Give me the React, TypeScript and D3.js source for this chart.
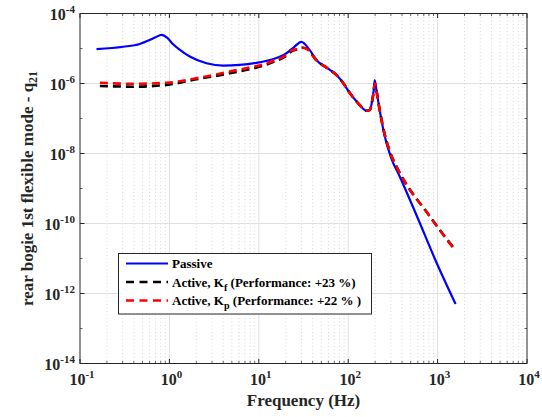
import React, { useEffect, useRef } from 'react';
import * as d3 from 'd3';

// frequency (Hz) and magnitude
const passiveFreq = [0.153, 0.305, 0.467, 0.6, 0.7, 0.818, 0.95, 1.1, 1.3, 1.69, 2.6, 4.0, 6.1, 9.4, 13.3, 20.3, 25, 29.9, 37, 44, 59, 74, 91, 99, 134, 150, 160, 174, 186, 193, 198, 207, 225, 256, 300, 376, 578, 982, 1589];
const passiveMag = [9.55e-6, 1.12e-5, 1.35e-5, 1.74e-5, 2.09e-5, 2.45e-5, 2.0e-5, 1.32e-5, 9.3e-6, 5.9e-6, 3.8e-6, 3.24e-6, 3.39e-6, 3.89e-6, 4.68e-6, 7.24e-6, 1.12e-5, 1.55e-5, 9.1e-6, 4.68e-6, 2.69e-6, 1.74e-6, 9.1e-7, 6.46e-7, 2.45e-7, 1.82e-7, 1.66e-7, 1.74e-7, 3.39e-7, 6.46e-7, 1.26e-6, 6.46e-7, 1.74e-7, 3.16e-8, 7.9e-9, 2.24e-9, 1.78e-10, 7.2e-12, 5.0e-13];

const kfFreq = [0.167, 0.394, 0.93, 2.0, 4.7, 14.4, 20, 24, 27, 31, 35, 40, 44, 59, 74, 91, 99, 134, 150, 160, 174, 186, 193, 198, 207, 225, 256, 291, 350, 447, 748, 1000, 1250, 1600];
const kfMag = [8.5e-7, 8.1e-7, 9.1e-7, 1.32e-6, 1.95e-6, 4.07e-6, 6.0e-6, 8.7e-6, 9.5e-6, 1.05e-5, 9.5e-6, 6.3e-6, 4.68e-6, 2.69e-6, 1.74e-6, 9.1e-7, 6.46e-7, 2.45e-7, 1.82e-7, 1.66e-7, 1.74e-7, 3.3e-7, 6.0e-7, 1.0e-6, 6.2e-7, 1.74e-7, 3.5e-8, 1.17e-8, 4.0e-9, 1.32e-9, 2.19e-10, 7.9e-11, 3.7e-11, 1.7e-11];

const kpFreq = [0.167, 0.394, 0.93, 2.0, 4.7, 14.4, 20, 24, 27, 31, 35, 40, 44, 59, 74, 91, 99, 134, 150, 160, 174, 186, 193, 198, 207, 225, 256, 291, 350, 447, 748, 1000, 1250, 1560];
const kpMag = [1.05e-6, 9.8e-7, 1.05e-6, 1.41e-6, 2.19e-6, 4.37e-6, 6.3e-6, 9.1e-6, 9.5e-6, 1.05e-5, 9.5e-6, 6.3e-6, 4.68e-6, 2.69e-6, 1.74e-6, 9.1e-7, 6.46e-7, 2.45e-7, 1.82e-7, 1.66e-7, 1.74e-7, 3.3e-7, 6.0e-7, 1.0e-6, 6.2e-7, 1.74e-7, 3.5e-8, 1.17e-8, 4.0e-9, 1.32e-9, 2.19e-10, 7.9e-11, 3.7e-11, 1.74e-11];

const xTickExp = [-1, 0, 1, 2, 3, 4];
const yTickExp = [-4, -6, -8, -10, -12, -14];

const legendLabels = [
  { name: 'Passive', sub: '', rest: '' },
  { name: 'Active, K', sub: 'f', rest: ' (Performance: +23 %)' },
  { name: 'Active, K', sub: 'p', rest: ' (Performance: +22 % )' },
];

const W = 542, H = 417;
const M = { left: 80, right: 527, top: 13.5, bottom: 363.5 };
const FONT = "'Liberation Serif', 'Times New Roman', serif";

export default function App() {
  const ref = useRef<SVGSVGElement>(null);

  useEffect(() => {
    const svg = d3.select(ref.current);
    svg.selectAll('*').remove();

    const x = d3.scaleLog().domain([0.1, 1e4]).range([M.left, M.right]);
    const y = d3.scaleLog().domain([1e-14, 1e-4]).range([M.bottom, M.top]);

    svg.append('rect').attr('width', W).attr('height', H).attr('fill', '#fff');

    const g = svg.append('g').style('font-family', FONT).style('font-weight', 'bold');

    // minor vertical grid
    const minors: number[] = [];
    for (let e = -1; e < 4; e++) for (let k = 2; k <= 9; k++) minors.push(k * Math.pow(10, e));
    g.selectAll('line.mx').data(minors).enter().append('line')
      .attr('x1', d => x(d)).attr('x2', d => x(d))
      .attr('y1', M.top).attr('y2', M.bottom)
      .attr('stroke', '#c4c4c4').attr('stroke-width', 0.7).attr('stroke-dasharray', '1,2.5');

    // major grid
    g.selectAll('line.gx').data(xTickExp.slice(1, -1)).enter().append('line')
      .attr('x1', d => x(Math.pow(10, d))).attr('x2', d => x(Math.pow(10, d)))
      .attr('y1', M.top).attr('y2', M.bottom)
      .attr('stroke', '#e0e0e0').attr('stroke-width', 1);
    g.selectAll('line.gy').data(yTickExp.slice(1, -1)).enter().append('line')
      .attr('y1', d => y(Math.pow(10, d))).attr('y2', d => y(Math.pow(10, d)))
      .attr('x1', M.left).attr('x2', M.right)
      .attr('stroke', '#e0e0e0').attr('stroke-width', 1);

    // tick marks (inside, all four sides)
    const ax = '#262626';
    minors.forEach(d => {
      g.append('line').attr('x1', x(d)).attr('x2', x(d)).attr('y1', M.bottom).attr('y2', M.bottom - 2.5).attr('stroke', ax).attr('stroke-width', 0.7);
      g.append('line').attr('x1', x(d)).attr('x2', x(d)).attr('y1', M.top).attr('y2', M.top + 2.5).attr('stroke', ax).attr('stroke-width', 0.7);
    });
    xTickExp.forEach(e => {
      const px = x(Math.pow(10, e));
      g.append('line').attr('x1', px).attr('x2', px).attr('y1', M.bottom).attr('y2', M.bottom - 4.5).attr('stroke', ax);
      g.append('line').attr('x1', px).attr('x2', px).attr('y1', M.top).attr('y2', M.top + 4.5).attr('stroke', ax);
    });
    for (let e = -14; e <= -4; e++) {
      const py = y(Math.pow(10, e));
      const len = e % 2 === 0 ? 4.5 : 2.5;
      g.append('line').attr('x1', M.left).attr('x2', M.left + len).attr('y1', py).attr('y2', py).attr('stroke', ax).attr('stroke-width', e % 2 === 0 ? 1 : 0.7);
      g.append('line').attr('x1', M.right).attr('x2', M.right - len).attr('y1', py).attr('y2', py).attr('stroke', ax).attr('stroke-width', e % 2 === 0 ? 1 : 0.7);
    }

    // curves
    const line = d3.line<[number, number]>()
      .x(d => x(d[0])).y(d => y(d[1]))
      .curve(d3.curveMonotoneX);
    const zip = (f: number[], m: number[]) => f.map((v, i) => [v, m[i]] as [number, number]);

    g.append('path').attr('d', line(zip(passiveFreq, passiveMag)))
      .attr('fill', 'none').attr('stroke', '#0000ff').attr('stroke-width', 2.2);
    g.append('path').attr('d', line(zip(kfFreq, kfMag)))
      .attr('fill', 'none').attr('stroke', '#000').attr('stroke-width', 2.6).attr('stroke-dasharray', '8,5');
    g.append('path').attr('d', line(zip(kpFreq, kpMag)))
      .attr('fill', 'none').attr('stroke', '#ff0000').attr('stroke-width', 2.6).attr('stroke-dasharray', '8,5');

    // axes box
    g.append('rect').attr('x', M.left).attr('y', M.top)
      .attr('width', M.right - M.left).attr('height', M.bottom - M.top)
      .attr('fill', 'none').attr('stroke', ax).attr('stroke-width', 1);

    // tick labels
    xTickExp.forEach(e => {
      const t = g.append('text').attr('x', x(Math.pow(10, e)) + 2).attr('y', 385)
        .attr('text-anchor', 'middle').attr('font-size', 16).attr('fill', ax);
      t.append('tspan').text('10');
      t.append('tspan').attr('dy', -7).attr('font-size', 11).text(String(e));
    });
    yTickExp.forEach(e => {
      const t = g.append('text').attr('x', 75).attr('y', y(Math.pow(10, e)) + 6)
        .attr('text-anchor', 'end').attr('font-size', 16).attr('fill', ax);
      t.append('tspan').text('10');
      t.append('tspan').attr('dy', -7).attr('font-size', 11).text(String(e));
    });

    // axis titles
    g.append('text').attr('x', (M.left + M.right) / 2).attr('y', 406)
      .attr('text-anchor', 'middle').attr('font-size', 17).attr('fill', ax).text('Frequency (Hz)');
    const yl = g.append('text').attr('transform', `translate(33,${(M.top + M.bottom) / 2}) rotate(-90)`)
      .attr('text-anchor', 'middle').attr('font-size', 17).attr('fill', ax);
    yl.append('tspan').text('rear bogie 1st flexible mode - q');
    yl.append('tspan').attr('dy', 4).attr('font-size', 12).text('21');

    // legend
    const lg = g.append('g');
    lg.append('rect').attr('x', 118.5).attr('y', 253.5).attr('width', 253).attr('height', 60.5)
      .attr('fill', '#fff').attr('stroke', ax).attr('stroke-width', 1);
    const colors = ['#0000ff', '#000', '#ff0000'];
    legendLabels.forEach((l, i) => {
      const ly = 263.5 + i * 18.5;
      lg.append('line').attr('x1', 126).attr('x2', 168).attr('y1', ly).attr('y2', ly)
        .attr('stroke', colors[i]).attr('stroke-width', i === 0 ? 2.2 : 2.6)
        .attr('stroke-dasharray', i === 0 ? null : '8,5.5');
      const t = lg.append('text').attr('x', 172).attr('y', ly + 4.5)
        .attr('font-size', 13).attr('fill', '#000');
      t.append('tspan').text(l.name);
      if (l.sub) {
        t.append('tspan').attr('dy', 4).attr('font-size', 10).text(l.sub);
        t.append('tspan').attr('dy', -4).text(l.rest);
      }
    });
  }, []);

  return (
    <svg ref={ref} width={W} height={H} style={{ position: 'absolute', left: 0, top: 0, display: 'block' }} />
  );
}
